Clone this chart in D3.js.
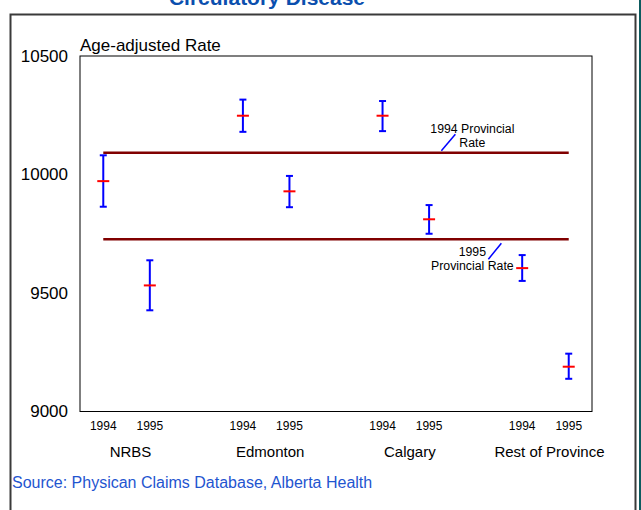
<!DOCTYPE html>
<html><head><meta charset="utf-8">
<script src="https://cdn.jsdelivr.net/npm/d3@7"></script>
<style>
html,body{margin:0;padding:0;background:#fff;}
svg{display:block;font-family:"Liberation Sans",Arial,sans-serif;}
</style></head>
<body><svg id="c" width="641" height="510"></svg>
<script>
// ---- data ----
const title = "Circulatory Disease";
const regions = ["NRBS", "Edmonton", "Calgary", "Rest of Province"];
const years = ["1994", "1995"];
const rates    = [9972, 9532, 10248, 9929, 10248, 9811, 9605, 9189];
const ciLower  = [9864, 9427, 10180, 9862, 10183, 9750, 9551, 9138];
const ciUpper  = [10081, 9638, 10316, 9994, 10310, 9871, 9660, 9244];
const provincialRates = [10092, 9727];
const provincialLabels = [["1994 Provincial", "Rate"], ["1995", "Provincial Rate"]];
const yTicks = [9000, 9500, 10000, 10500];
const yLabel = "Age-adjusted Rate";
const source = "Source: Physican Claims Database, Alberta Health";

// ---- layout ----
const svg = d3.select("#c");
const plot = {left: 80, top: 56, right: 592, bottom: 411.5};

const slots = [];
regions.forEach((r, i) => {
  years.forEach(y => slots.push(r + "|" + y));
  if (i < regions.length - 1) slots.push("gap" + i);
});
const x = d3.scaleBand().domain(slots).range([plot.left, plot.right]).paddingInner(0).paddingOuter(0);
const cx = k => x(k) + x.bandwidth() / 2;
const y = d3.scaleLinear().domain([9000, 10500]).range([plot.bottom, plot.top]);

const points = [];
regions.forEach((r, i) => years.forEach((yr, j) => {
  const idx = i * 2 + j;
  points.push({key: r + "|" + yr, year: yr, v: rates[idx], lo: ciLower[idx], hi: ciUpper[idx]});
}));

// outer frame
svg.append("rect").attr("x", 639).attr("y", 0).attr("width", 2).attr("height", 510).attr("fill", "#0d5b5f");
svg.append("path").attr("d", `M10.5,510 V14.5 H635.5 V510`).attr("fill", "none").attr("stroke", "#3a3a3a").attr("stroke-width", 2);

// title (cut off at top, as in the reference)
svg.append("text").attr("x", 267).attr("y", 5).attr("text-anchor", "middle")
  .attr("font-size", 21).attr("font-weight", "bold").attr("fill", "#0b4fae").text(title);

// plot box
svg.append("rect").attr("x", plot.left).attr("y", plot.top)
  .attr("width", plot.right - plot.left).attr("height", plot.bottom - plot.top)
  .attr("fill", "none").attr("stroke", "#000").attr("stroke-width", 1);

// y axis labels
const yAxis = d3.axisLeft(y).tickValues(yTicks).tickSize(0).tickPadding(12).tickFormat(d3.format("d"));
const ya = svg.append("g").attr("transform", `translate(${plot.left},0)`).call(yAxis);
ya.select(".domain").remove();
ya.selectAll("text").attr("font-size", 17).attr("font-family", "Liberation Sans, Arial, sans-serif").attr("fill", "#000");

svg.append("text").attr("x", plot.left).attr("y", 51).attr("font-size", 17).attr("fill", "#000").text(yLabel);

// x axis year labels
const xAxis = d3.axisBottom(x).tickValues(points.map(p => p.key)).tickSize(0).tickPadding(10)
  .tickFormat(k => k.split("|")[1]);
const xa = svg.append("g").attr("transform", `translate(0,${plot.bottom})`).call(xAxis);
xa.select(".domain").remove();
xa.selectAll("text").attr("font-size", 12).attr("font-family", "Liberation Sans, Arial, sans-serif").attr("fill", "#000");

// region labels
svg.append("g").selectAll("text").data(regions).join("text")
  .attr("x", r => (cx(r + "|1994") + cx(r + "|1995")) / 2 + 4)
  .attr("y", 457).attr("text-anchor", "middle").attr("font-size", 15).attr("fill", "#000").text(r => r);

// provincial rate lines
const x0 = cx(slots[0]), x1 = cx(slots[slots.length - 1]);
svg.append("g").selectAll("line").data(provincialRates).join("line")
  .attr("x1", x0).attr("x2", x1).attr("y1", d => y(d)).attr("y2", d => y(d))
  .attr("stroke", "#800000").attr("stroke-width", 2.5);

// annotations
const annX = (cx("Calgary|1995") + cx("gap2")) / 2 + 3;
const a0 = svg.append("g");
a0.append("text").attr("x", annX + 17).attr("y", y(provincialRates[0]) - 20).attr("text-anchor", "middle")
  .attr("font-size", 12.3).text(provincialLabels[0][0]);
a0.append("text").attr("x", annX + 17).attr("y", y(provincialRates[0]) - 6).attr("text-anchor", "middle")
  .attr("font-size", 12.3).text(provincialLabels[0][1]);
a0.append("line").attr("x1", annX - 14).attr("y1", y(provincialRates[0]) - 2)
  .attr("x2", annX).attr("y2", y(provincialRates[0]) - 18.5).attr("stroke", "#0000ff").attr("stroke-width", 1.5);
const a1 = svg.append("g");
a1.append("text").attr("x", annX + 17).attr("y", y(provincialRates[1]) + 17).attr("text-anchor", "middle")
  .attr("font-size", 12.3).text(provincialLabels[1][0]);
a1.append("text").attr("x", annX + 17).attr("y", y(provincialRates[1]) + 31).attr("text-anchor", "middle")
  .attr("font-size", 12.3).text(provincialLabels[1][1]);
a1.append("line").attr("x1", annX + 46).attr("y1", y(provincialRates[1]) + 4)
  .attr("x2", annX + 33).attr("y2", y(provincialRates[1]) + 20).attr("stroke", "#0000ff").attr("stroke-width", 1.5);

// error bars
const g = svg.append("g");
const bars = g.selectAll("g.pt").data(points).join("g").attr("class", "pt");
bars.append("line").attr("x1", d => cx(d.key)).attr("x2", d => cx(d.key))
  .attr("y1", d => y(d.lo)).attr("y2", d => y(d.hi)).attr("stroke", "#0000ff").attr("stroke-width", 2);
bars.append("line").attr("x1", d => cx(d.key) - 3.5).attr("x2", d => cx(d.key) + 3.5)
  .attr("y1", d => y(d.hi)).attr("y2", d => y(d.hi)).attr("stroke", "#0000ff").attr("stroke-width", 2);
bars.append("line").attr("x1", d => cx(d.key) - 3.5).attr("x2", d => cx(d.key) + 3.5)
  .attr("y1", d => y(d.lo)).attr("y2", d => y(d.lo)).attr("stroke", "#0000ff").attr("stroke-width", 2);
bars.append("line").attr("x1", d => cx(d.key) - 6).attr("x2", d => cx(d.key) + 6)
  .attr("y1", d => y(d.v)).attr("y2", d => y(d.v)).attr("stroke", "#ff0000").attr("stroke-width", 2);

// source
svg.append("text").attr("x", 12).attr("y", 488).attr("font-size", 16).attr("fill", "#1f55d0").text(source);
</script></body></html>
